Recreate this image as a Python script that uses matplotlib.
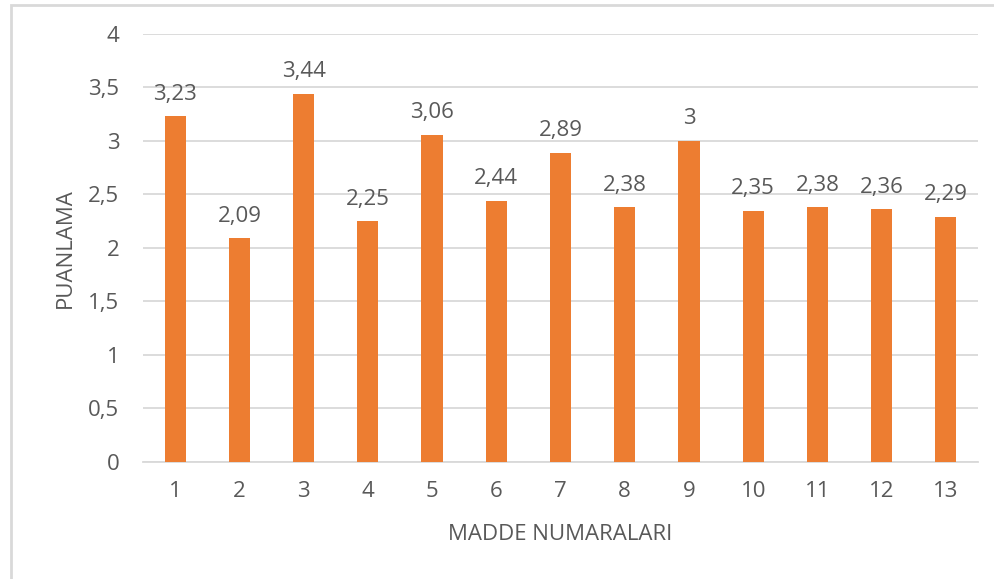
import numpy as np
import matplotlib.pyplot as plt
from matplotlib.patches import Rectangle
from matplotlib.ticker import FuncFormatter

maddeler = ['1', '2', '3', '4', '5', '6', '7', '8', '9', '10', '11', '12', '13']
puanlar = [3.23, 2.09, 3.44, 2.25, 3.06, 2.44, 2.89, 2.38, 3.00, 2.35, 2.38, 2.36, 2.29]
etiketler = ['3,23', '2,09', '3,44', '2,25', '3,06', '2,44', '2,89', '2,38', '3', '2,35', '2,38', '2,36', '2,29']

plt.rcParams['font.family'] = ['Open Sans', 'DejaVu Sans']
metin = '#595959'
fs = 16

fig = plt.figure(figsize=(9.94, 5.79), dpi=100)
ax = fig.add_axes([0.1439, 0.2021, 0.8400, 0.7392])

x = np.arange(len(maddeler))
bars = ax.bar(x, puanlar, width=0.33, color='#ED7D31', zorder=3)
for b, t in zip(bars, etiketler):
    ax.annotate(t, (b.get_x() + b.get_width() / 2, b.get_height()), xytext=(0, 12),
                textcoords='offset points', ha='center', va='baseline', fontsize=fs, color=metin)

ax.set_xlim(-0.5, len(maddeler) - 0.5)
ax.set_ylim(0, 4)
ax.set_yticks(np.arange(0, 4.01, 0.5))
ax.yaxis.set_major_formatter(FuncFormatter(lambda v, p: ('%g' % v).replace('.', ',')))
ax.set_xticks(x)
ax.set_xticklabels(maddeler)
ax.grid(axis='y', color='#D9D9D9', linewidth=1.3, zorder=0)
for s in ['top', 'right', 'left']:
    ax.spines[s].set_visible(False)
ax.spines['bottom'].set_color('#D9D9D9')
ax.spines['bottom'].set_linewidth(1.3)
ax.tick_params(length=0, labelsize=fs, colors=metin)
ax.tick_params(axis='y', pad=17)
ax.tick_params(axis='x', pad=14)

ax.set_ylabel('PUANLAMA', fontsize=fs, color=metin)
ax.set_xlabel('MADDE NUMARALARI', fontsize=fs, color=metin)
ax.yaxis.set_label_coords(-0.081, 0.5)
ax.xaxis.set_label_coords(0.5, -0.145)

fig.patches.append(Rectangle((11 / 994, -0.1), 1.2, 1 - 5 / 579 + 0.1, transform=fig.transFigure,
                             fill=False, edgecolor='#D9D9D9', linewidth=2))

fig.savefig('out.png', dpi=100)
